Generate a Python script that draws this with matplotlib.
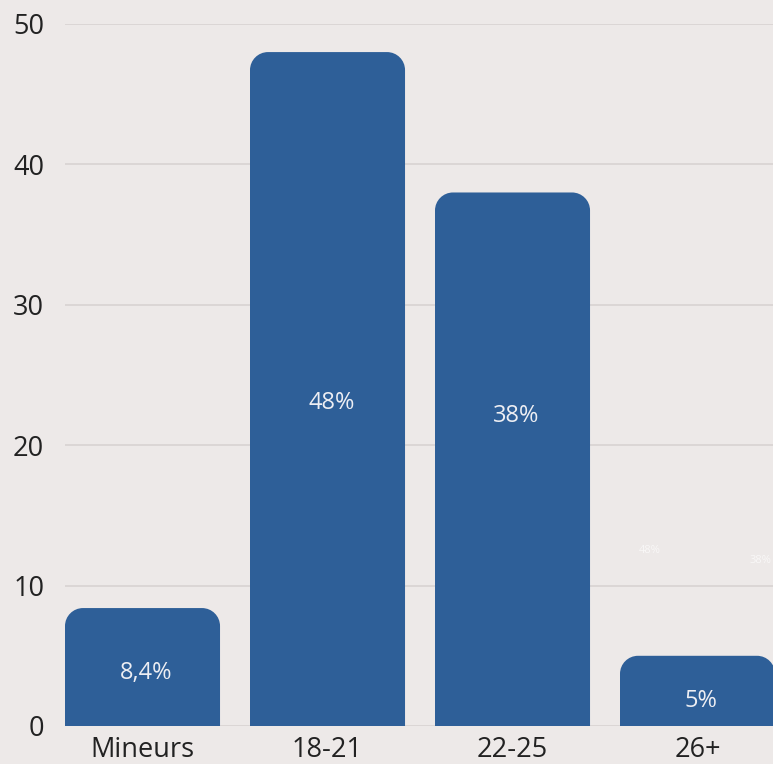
import matplotlib
matplotlib.use("Agg")
import matplotlib.pyplot as plt
from matplotlib.path import Path
from matplotlib.patches import PathPatch

plt.rcParams['font.family'] = ['Open Sans', 'DejaVu Sans']

categories = ["Mineurs", "18-21", "22-25", "26+"]
values = [8.4, 48, 38, 5]
labels = ["8,4%", "48%", "38%", "5%"]
yticks = [0, 10, 20, 30, 40, 50]

BG = "#EDE9E8"
BAR = "#2E5F98"

fig = plt.figure(figsize=(7.73, 7.64), dpi=100, facecolor=BG)
ax = fig.add_axes([65 / 773, 1 - 726 / 764, 708 / 773, 702 / 764])
ax.set_facecolor(BG)

width = 0.838
x = list(range(len(categories)))
ax.set_xlim(-width / 2, 3.408)
ax.set_ylim(0, 50)

fig.canvas.draw()
# corner radius in pixels converted to data units on each axis
r_px = 18
p0 = ax.transData.inverted().transform((0, 0))
p1 = ax.transData.inverted().transform((r_px, r_px))
rx, ry = p1[0] - p0[0], p1[1] - p0[1]
k = 0.5523

for xi, v in zip(x, values):
    l, rgt = xi - width / 2, xi + width / 2
    verts = [
        (l, 0), (l, v - ry),
        (l, v - ry + k * ry), (l + rx - k * rx, v), (l + rx, v),
        (rgt - rx, v),
        (rgt - rx + k * rx, v), (rgt, v - ry + k * ry), (rgt, v - ry),
        (rgt, 0), (l, 0),
    ]
    codes = [Path.MOVETO, Path.LINETO,
             Path.CURVE4, Path.CURVE4, Path.CURVE4,
             Path.LINETO,
             Path.CURVE4, Path.CURVE4, Path.CURVE4,
             Path.LINETO, Path.CLOSEPOLY]
    ax.add_patch(PathPatch(Path(verts, codes), facecolor=BAR, edgecolor="none", zorder=2))

# value labels inside the bars
label_y = [3.75, 23.0, 22.1, 1.75]
for xi, ly, t in zip(x, label_y, labels):
    ax.text(xi + 0.02, ly, t, ha="center", va="center", color="#EDEEF3", fontsize=17, zorder=3)

# faint duplicate labels drifting over the background
ax.text(2.74, 12.5, labels[1], ha="center", va="center", color="white", alpha=0.65, fontsize=8, zorder=3)
ax.text(3.34, 11.8, labels[2], ha="center", va="center", color="white", alpha=0.65, fontsize=8, zorder=3)

ax.set_yticks(yticks)
ax.set_xticks(x)
ax.set_xticklabels(categories)
ax.tick_params(axis="both", length=0, labelsize=19.5, colors="#222222")
ax.tick_params(axis="y", pad=15)
ax.tick_params(axis="x", pad=7)
ax.grid(axis="y", color="#D8D3D2", linewidth=1.2, zorder=0)
ax.set_axisbelow(True)
for s in ax.spines.values():
    s.set_visible(False)

fig.savefig("out.png", dpi=100, facecolor=BG)
